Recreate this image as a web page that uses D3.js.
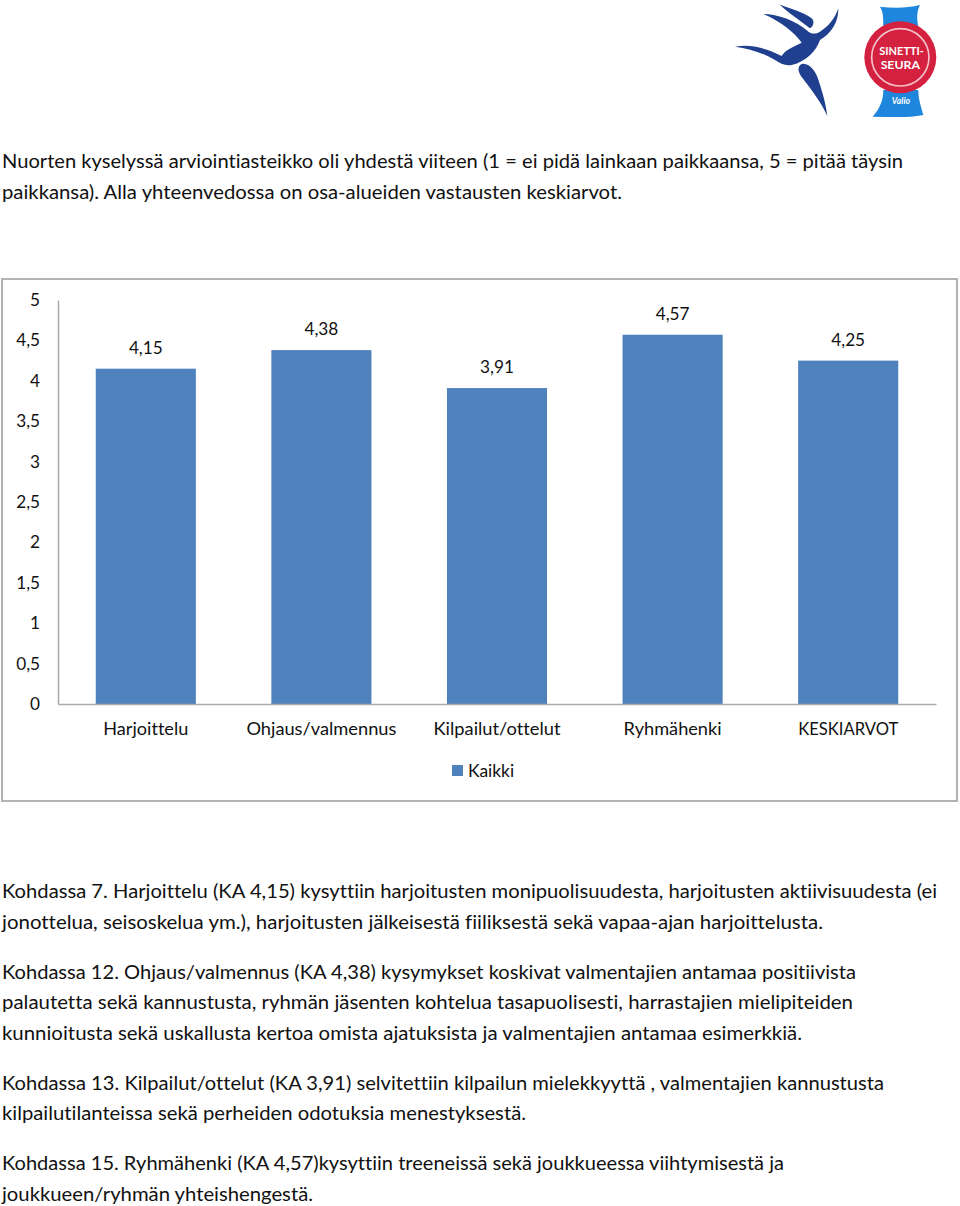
<!DOCTYPE html>
<html><head><meta charset="utf-8">
<script src="https://cdn.jsdelivr.net/npm/d3@7"></script>
<style>html,body{margin:0;padding:0;background:#fff}svg{display:block}text{font-family:Lato,"Open Sans",sans-serif;fill:#111;font-variant-ligatures:none}</style>
</head><body><div id="c"></div>
<script>
const categories=["Harjoittelu","Ohjaus/valmennus","Kilpailut/ottelut","Ryhmähenki","KESKIARVOT"];
const values=[4.15,4.38,3.91,4.57,4.25];
const yTicks=[0,0.5,1,1.5,2,2.5,3,3.5,4,4.5,5];
const seriesName="Kaikki";
const introLines=["Nuorten kyselyssä arviointiasteikko oli yhdestä viiteen (1 = ei pidä lainkaan paikkaansa, 5 = pitää täysin","paikkansa). Alla yhteenvedossa on osa-alueiden vastausten keskiarvot."];
const bodyLines=[
"Kohdassa 7. Harjoittelu (KA 4,15) kysyttiin harjoitusten monipuolisuudesta, harjoitusten aktiivisuudesta (ei",
"jonottelua, seisoskelua ym.), harjoitusten jälkeisestä fiiliksestä sekä vapaa-ajan harjoittelusta.",
"Kohdassa 12. Ohjaus/valmennus (KA 4,38) kysymykset koskivat valmentajien antamaa positiivista",
"palautetta sekä kannustusta, ryhmän jäsenten kohtelua tasapuolisesti, harrastajien mielipiteiden",
"kunnioitusta sekä uskallusta kertoa omista ajatuksista ja valmentajien antamaa esimerkkiä.",
"Kohdassa 13. Kilpailut/ottelut (KA 3,91) selvitettiin kilpailun mielekkyyttä , valmentajien kannustusta",
"kilpailutilanteissa sekä perheiden odotuksia menestyksestä.",
"Kohdassa 15. Ryhmähenki (KA 4,57)kysyttiin treeneissä sekä joukkueessa viihtymisestä ja",
"joukkueen/ryhmän yhteishengestä."];
const bodyY=[897.6,928.6,978.6,1008.6,1039.6,1089.6,1119.6,1169.6,1200.6];
const bodyW=[935,821,854,851,800,882,524,782,311];
const introY=[167.6,198.6], introW=[901,620];
const catW=[85,150,127,98,100];
const fmt=v=>String(v).replace(".",",");

const svg=d3.select("#c").append("svg").attr("width",960).attr("height",1206);
const FS=19.6;
function para(lines,ys,ws){
  svg.append("g").selectAll("text").data(lines).join("text")
   .attr("x",2).attr("y",(d,i)=>ys[i]).attr("font-size",FS)
   .attr("textLength",(d,i)=>ws[i]).attr("lengthAdjust","spacingAndGlyphs").text(d=>d);
}
para(introLines,introY,introW);
para(bodyLines,bodyY,bodyW);

svg.append("rect").attr("x",2).attr("y",279).attr("width",955).attr("height",522)
  .attr("fill","#fff").attr("stroke","#b3b3b3").attr("stroke-width",2);

const y=d3.scaleLinear().domain([0,5]).range([704,300]);
const x=d3.scaleBand().domain(categories).range([58,936]).paddingInner(0.43).paddingOuter(0.215);
const blue="#4f81bd";

const gy=svg.append("g").attr("transform","translate(58,0)")
  .call(d3.axisLeft(y).tickValues(yTicks).tickFormat(fmt).tickSize(0).tickPadding(18));
gy.select(".domain").attr("stroke","#ababab").attr("stroke-width",1.5);
gy.selectAll("text").attr("font-size",17.2).attr("font-family","Lato").attr("fill","#222");

svg.append("g").selectAll("rect").data(values).join("rect")
  .attr("x",(d,i)=>x(categories[i])).attr("width",x.bandwidth())
  .attr("y",d=>y(d)).attr("height",d=>y(0)-y(d)).attr("fill",blue);

const gx=svg.append("g").attr("transform","translate(0,704)")
  .call(d3.axisBottom(x).tickSize(0).tickPadding(19));
gx.select(".domain").attr("stroke","#ababab").attr("stroke-width",1.5);
gx.selectAll("text").attr("font-size",17.6).attr("font-family","Lato").attr("fill","#222")
  .attr("textLength",(d,i)=>catW[i]).attr("lengthAdjust","spacingAndGlyphs");

svg.append("g").selectAll("text").data(values).join("text")
  .attr("x",(d,i)=>x(categories[i])+x.bandwidth()/2).attr("y",d=>y(d)-15)
  .attr("text-anchor","middle").attr("font-size",17.2).attr("fill","#222").text(fmt);

svg.append("rect").attr("x",452).attr("y",765).attr("width",11).attr("height",11).attr("fill",blue);
svg.append("text").attr("x",468).attr("y",777).attr("font-size",17.4).attr("fill","#222").text(seriesName);

// logos, drawn in 3x coordinates of the top-right corner
const logo=svg.append("g").attr("transform","translate(720,0) scale(0.3333)");
const navy="#20408f";
logo.append("path").attr("fill",navy).attr("d","M45 140 C95 132 140 145 185 168 C195 150 220 140 245 128 C225 100 185 65 130 42 C175 42 225 62 262 92 C270 100 285 105 300 95 C325 80 345 55 355 25 C356 65 335 100 300 120 C290 150 260 185 215 195 C195 198 180 190 165 180 C130 160 90 145 45 140 Z");
logo.append("path").attr("fill",navy).attr("d","M178 13 C210 28 250 35 275 55 C285 65 280 80 270 85 C245 65 205 40 178 13 Z");
logo.append("path").attr("fill",navy).attr("d","M245 192 C270 188 288 215 297 245 C310 285 318 315 322 348 C305 310 275 270 248 235 C232 215 232 198 245 192 Z");
logo.append("path").attr("fill","#1e86dc").attr("d","M480 20 C520 25 560 25 600 15 C590 35 590 55 595 80 L490 80 C490 55 490 35 480 20 Z");
logo.append("path").attr("fill","#1e86dc").attr("d","M490 270 L595 270 C595 300 605 325 610 345 C560 355 510 350 458 350 C480 325 490 300 490 270 Z");
logo.append("circle").attr("cx",541).attr("cy",172).attr("r",108).attr("fill","#d3213f");
logo.append("circle").attr("cx",541).attr("cy",172).attr("r",86).attr("fill","none").attr("stroke","#f6c0c8").attr("stroke-width",5);
const white=t=>t.attr("text-anchor","middle").attr("font-weight",700).attr("style","fill:#fff");
logo.append("text").attr("x",545).attr("y",166).attr("font-size",33).attr("textLength",134).attr("lengthAdjust","spacingAndGlyphs").call(white).text("SINETTI-");
logo.append("text").attr("x",541).attr("y",208).attr("font-size",33).attr("textLength",118).attr("lengthAdjust","spacingAndGlyphs").call(white).text("SEURA");
logo.append("text").attr("x",543).attr("y",312).attr("font-size",26).attr("font-style","italic").call(white).text("Valio");
</script></body></html>
